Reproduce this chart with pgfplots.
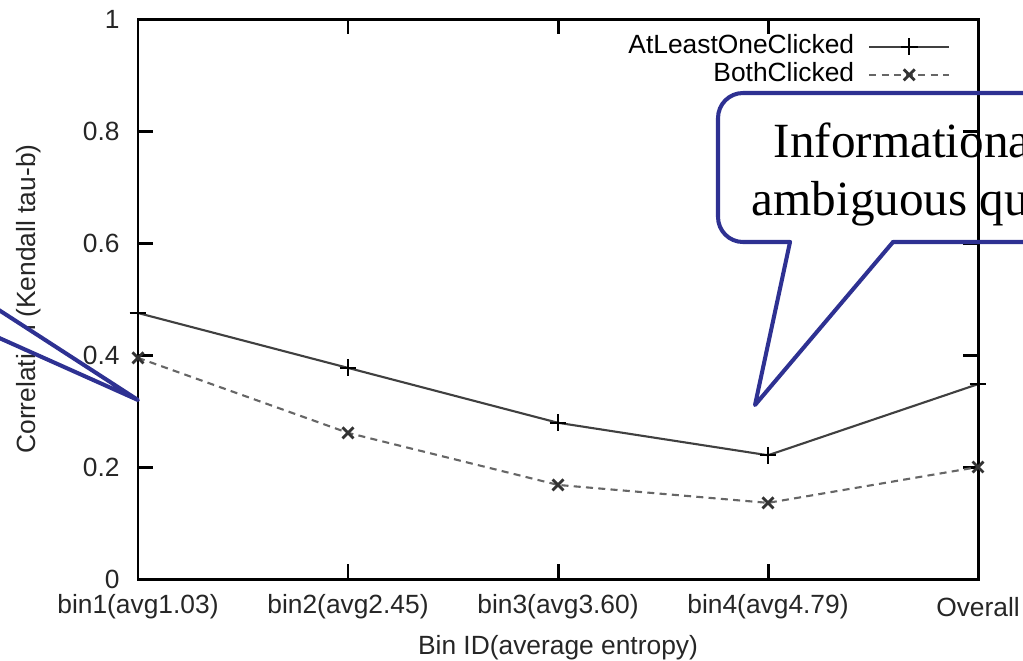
\documentclass[border=0pt]{standalone}
\usepackage{fontspec}
\setmainfont{Liberation Sans}
\newfontfamily\calloutfont{Liberation Serif}
\usepackage{pgfplots}
\pgfplotsset{compat=1.18}
\definecolor{callblue}{RGB}{46,49,146}
\begin{document}
\begin{tikzpicture}
\useasboundingbox (-1.38,-0.81) rectangle (8.85,5.79);
\begin{axis}[
  at={(0,0)}, anchor=south west,
  width=8.40cm, height=5.60cm, scale only axis,
  xmin=0, xmax=4, ymin=0, ymax=1,
  xtick={0,1,2,3,4},
  xticklabels={bin1(avg1.03),bin2(avg2.45),bin3(avg3.60),bin4(avg4.79),Overall},
  ytick={0,0.2,0.4,0.6,0.8,1},
  yticklabels={0,0.2,0.4,0.6,0.8,1},
  font=\fontsize{7.5}{9}\selectfont,
  tick label style={font=\fontsize{7.5}{9}\selectfont, text=black!85},
  xticklabel style={anchor=center, yshift=-0.28cm},
  yticklabel style={anchor=east, xshift=-0.06cm},
  axis line style={line width=0.85pt},
  major tick style={line width=0.85pt, black},
  major tick length=0.15cm,
  tick align=inside,
  xlabel={Bin ID(average entropy)},
  ylabel={Correlation (Kendall tau-b)},
  xlabel style={at={(axis description cs:0.5,-0.123)}, anchor=center, text=black!85},
  ylabel style={at={(axis description cs:-0.13,0.5)}, anchor=center, rotate=0, text=black!85},
  legend style={at={(0.972,0.992)}, anchor=north east, draw=none, fill=none,
    font=\fontsize{7.5}{8}\selectfont, row sep=-3pt, column sep=0.07cm, inner sep=1pt},
  legend cell align=right,
  legend plot pos=right,
  legend image code/.code={\draw[mark repeat=2,mark phase=2,#1] plot coordinates {(0cm,0cm)(0.4cm,0cm)(0.8cm,0cm)};},
  clip=false,
]
\addplot[black!75, line width=0.6pt, mark=+, mark size=2.4pt, mark options={black, solid, line width=0.7pt}]
  coordinates {(0,0.475) (1,0.377) (2,0.279) (3,0.221) (4,0.348)};
\addlegendentry{AtLeastOneClicked}
\addplot[black!60, line width=0.6pt, dash pattern=on 2pt off 1.5pt, mark=x, mark size=2.2pt, mark options={black!80, solid, line width=0.8pt}]
  coordinates {(0,0.395) (1,0.261) (2,0.168) (3,0.136) (4,0.200)};
\addlegendentry{BothClicked}
\end{axis}
% left callout pointer (cut off)
\fill[white] (-1.7,2.89) -- (0,1.79) -- (-1.7,2.55) -- cycle;
\draw[callblue, line width=1.15pt, line join=round, line cap=round]
  (-1.7,2.89) -- (0,1.79) -- (-1.7,2.55);
% right callout (cut off)
\draw[callblue, line width=1.15pt, line join=round, line cap=round]
  (6.52,3.37) -- (6.17,1.74) -- (7.55,3.37);
\draw[callblue, line width=1.15pt, line join=round, line cap=round, rounded corners=0.25cm]
  (7.55,3.37) -- (10.62,3.37) -- (10.62,4.86) -- (5.80,4.86) -- (5.80,3.37) -- (6.52,3.37);
\node[anchor=base west, inner sep=0pt, font=\calloutfont\fontsize{14}{16}\selectfont] at (6.35,4.22) {Informational and};
\node[anchor=base west, inner sep=0pt, font=\calloutfont\fontsize{14}{16}\selectfont] at (6.13,3.64) {ambiguous queries};
\end{tikzpicture}
\end{document}
